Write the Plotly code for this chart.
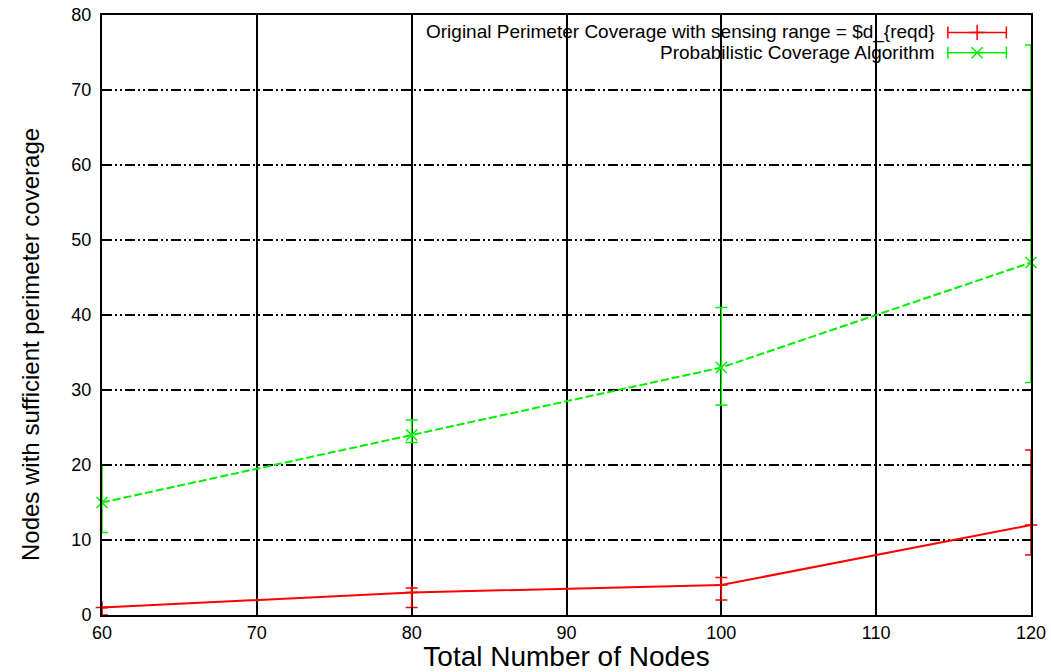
import plotly.graph_objects as go

# Number of nodes deployed
nodes = [60, 80, 100, 120]

# Original perimeter coverage (mean with min / max)
orig_mean = [1, 3, 4, 12]
orig_low = [0, 1, 2, 8]
orig_high = [1, 3.6, 5, 22]

# Probabilistic coverage algorithm (mean with min / max)
prob_mean = [15, 24, 33, 47]
prob_low = [11, 23, 28, 31]
prob_high = [20, 26, 41, 76]

series_names = [
    "Original Perimeter Coverage with sensing range = $d_{reqd}",
    "Probabilistic Coverage Algorithm",
]

RED = "#ff0000"
GREEN = "#00f000"
FONT = "Liberation Sans, Arial, sans-serif"

fig = go.Figure()

fig.add_trace(go.Scatter(
    x=nodes, y=orig_mean, mode="lines+markers",
    line=dict(color=RED, width=2),
    marker=dict(symbol="cross-thin", size=9, line=dict(color=RED, width=1.5)),
    error_y=dict(type="data", symmetric=False,
                 array=[h - m for h, m in zip(orig_high, orig_mean)],
                 arrayminus=[m - l for m, l in zip(orig_mean, orig_low)],
                 color=RED, thickness=1.5, width=6),
    cliponaxis=False, showlegend=False,
))

fig.add_trace(go.Scatter(
    x=nodes, y=prob_mean, mode="lines+markers",
    line=dict(color=GREEN, width=2, dash="8px,3px"),
    marker=dict(symbol="x-thin", size=11, line=dict(color=GREEN, width=1.5)),
    error_y=dict(type="data", symmetric=False,
                 array=[h - m for h, m in zip(prob_high, prob_mean)],
                 arrayminus=[m - l for m, l in zip(prob_mean, prob_low)],
                 color=GREEN, thickness=1.5, width=6),
    cliponaxis=False, showlegend=False,
))

# Key samples drawn on an overlay axis spanning the plot area (0..1)
key_y = [0.971, 0.937]
key_colors = [RED, GREEN]
key_symbols = ["cross-thin", "x-thin"]
for yk, col, sym, name in zip(key_y, key_colors, key_symbols, series_names):
    fig.add_trace(go.Scatter(
        x=[0.942], y=[yk], mode="markers", xaxis="x2", yaxis="y2",
        marker=dict(symbol=sym, size=11, line=dict(color=col, width=1.5), color=col),
        error_x=dict(type="constant", value=0.0315, color=col, thickness=1.5, width=6),
        cliponaxis=False, showlegend=False, hoverinfo="skip",
    ))
    fig.add_annotation(
        x=0.899, y=yk, xref="paper", yref="paper", text=name,
        showarrow=False, xanchor="right", yanchor="middle",
        font=dict(family=FONT, size=19, color="black"),
    )

# Y axis title, centred a little below the middle of the plot area
fig.add_annotation(
    x=-0.0775, y=0.45, xref="paper", yref="paper",
    text="Nodes with sufficient perimeter coverage", textangle=-90,
    showarrow=False, xanchor="center", yanchor="middle",
    font=dict(family=FONT, size=24, color="black"),
)

tick_style = dict(
    ticks="inside", ticklen=8, tickwidth=1.5, tickcolor="black",
    showline=True, linecolor="black", linewidth=2, mirror="ticks",
    showgrid=True, gridcolor="black", gridwidth=1.5,
    zeroline=False, automargin=False, layer="above traces",
    tickfont=dict(size=18),
)

fig.update_layout(
    width=1051, height=672,
    margin=dict(l=102, r=20, t=15, b=57),
    paper_bgcolor="white", plot_bgcolor="white",
    font=dict(family=FONT, color="black"),
    xaxis=dict(
        range=[60, 120], tickvals=[60, 70, 80, 90, 100, 110, 120],
        griddash="solid",
        title=dict(text="Total Number of Nodes", font=dict(size=28), standoff=4),
        **tick_style,
    ),
    yaxis=dict(
        range=[0, 80], tickvals=[0, 10, 20, 30, 40, 50, 60, 70, 80],
        griddash="10px,3px,2px,3px,2px,3px",
        ticklabelstandoff=5,
        **tick_style,
    ),
    xaxis2=dict(range=[0, 1], overlaying="x", visible=False, fixedrange=True),
    yaxis2=dict(range=[0, 1], overlaying="y", visible=False, fixedrange=True),
)

fig.write_html("out.html")
